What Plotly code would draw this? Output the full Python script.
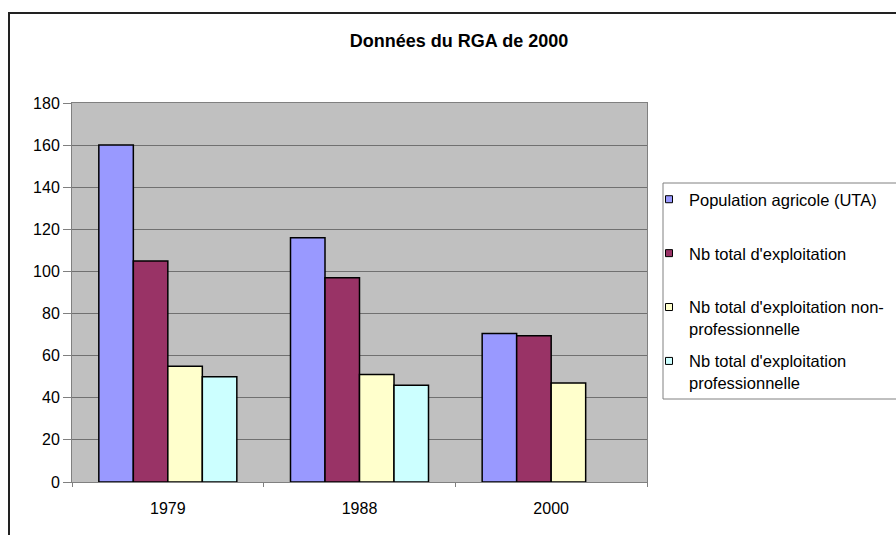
import plotly.graph_objects as go

# ---- data ----
years = ["1979", "1988", "2000"]
population_uta = [160, 116, 70.5]
nb_total = [105, 97, 69.5]
nb_non_pro = [55, 51, 47]
nb_pro = [50, 46, None]

series_names = [
    "Population agricole (UTA)",
    "Nb total d'exploitation",
    "Nb total d'exploitation non-<br>professionnelle",
    "Nb total d'exploitation<br>professionnelle",
]
series_values = [population_uta, nb_total, nb_non_pro, nb_pro]
colors = ["#9999FF", "#993366", "#FFFFCC", "#CCFFFF"]

FONT = "Arial, Liberation Sans, Helvetica, sans-serif"

W, H = 896, 535
L, R, T, B = 72, 647, 103, 482

fig = go.Figure()
for name, vals, col in zip(series_names, series_values, colors):
    fig.add_trace(go.Bar(
        x=years, y=vals, name=name, showlegend=False,
        marker=dict(color=col, line=dict(color="#000000", width=1.5)),
    ))
# legend proxies (small square symbols)
for i, (name, col) in enumerate(zip(series_names, colors)):
    label = name if "<br>" in name else name + "<br> "
    fig.add_trace(go.Scatter(
        x=[None], y=[None], mode="markers", name=label,
        legendgroup=f"g{i}",
        marker=dict(symbol="square", size=7, color=col,
                    line=dict(color="#000000", width=1)),
    ))

def px_x(px):
    return (px - L) / (R - L)

def px_y(py):
    return (B - py) / (B - T)

fig.update_layout(
    width=W, height=H,
    margin=dict(l=L, r=W - R, t=T, b=H - B, autoexpand=False),
    paper_bgcolor="white",
    plot_bgcolor="#C0C0C0",
    barmode="group",
    bargap=0.28,
    bargroupgap=0,
    font=dict(family=FONT, size=16, color="#000000"),
    title=dict(text="<b>Données du RGA de 2000</b>", x=459 / W, xanchor="center",
               y=1 - 41 / H, yanchor="middle",
               font=dict(family=FONT, size=18, color="#000000")),
    legend=dict(
        x=px_x(649), xanchor="left", y=px_y(182), yanchor="top",
        bgcolor="rgba(0,0,0,0)", borderwidth=0,
        valign="top", tracegroupgap=8,
        font=dict(family=FONT, size=16.5, color="#000000"),
    ),
    shapes=[
        # outer chart frame
        dict(type="rect", xref="paper", yref="paper",
             x0=px_x(9), x1=px_x(910), y0=px_y(550), y1=px_y(13),
             line=dict(color="#222222", width=2), fillcolor="rgba(0,0,0,0)",
             layer="below"),
        # legend box
        dict(type="rect", xref="paper", yref="paper",
             x0=px_x(663), x1=px_x(910), y0=px_y(399), y1=px_y(183),
             line=dict(color="#808080", width=1), fillcolor="white",
             layer="below"),
    ],
)

fig.update_yaxes(
    range=[0, 180], dtick=20, showgrid=True, gridcolor="#707070", gridwidth=1,
    showline=True, linecolor="#808080", linewidth=1, mirror=True,
    ticks="outside", ticklen=8, tickcolor="#808080",
    tickfont=dict(family=FONT, size=16, color="#000000"),
    zeroline=False,
)
fig.update_xaxes(
    type="category", showline=True, linecolor="#808080", linewidth=1, mirror=True,
    ticks="outside", ticklen=4, tickcolor="#808080", tickson="boundaries",
    ticklabelstandoff=12,
    tickfont=dict(family=FONT, size=16, color="#000000"),
    showgrid=False,
)

fig.write_html("out.html",
               config={"displayModeBar": False},
               post_script="document.body.style.margin='0';document.body.style.overflow='hidden';")
